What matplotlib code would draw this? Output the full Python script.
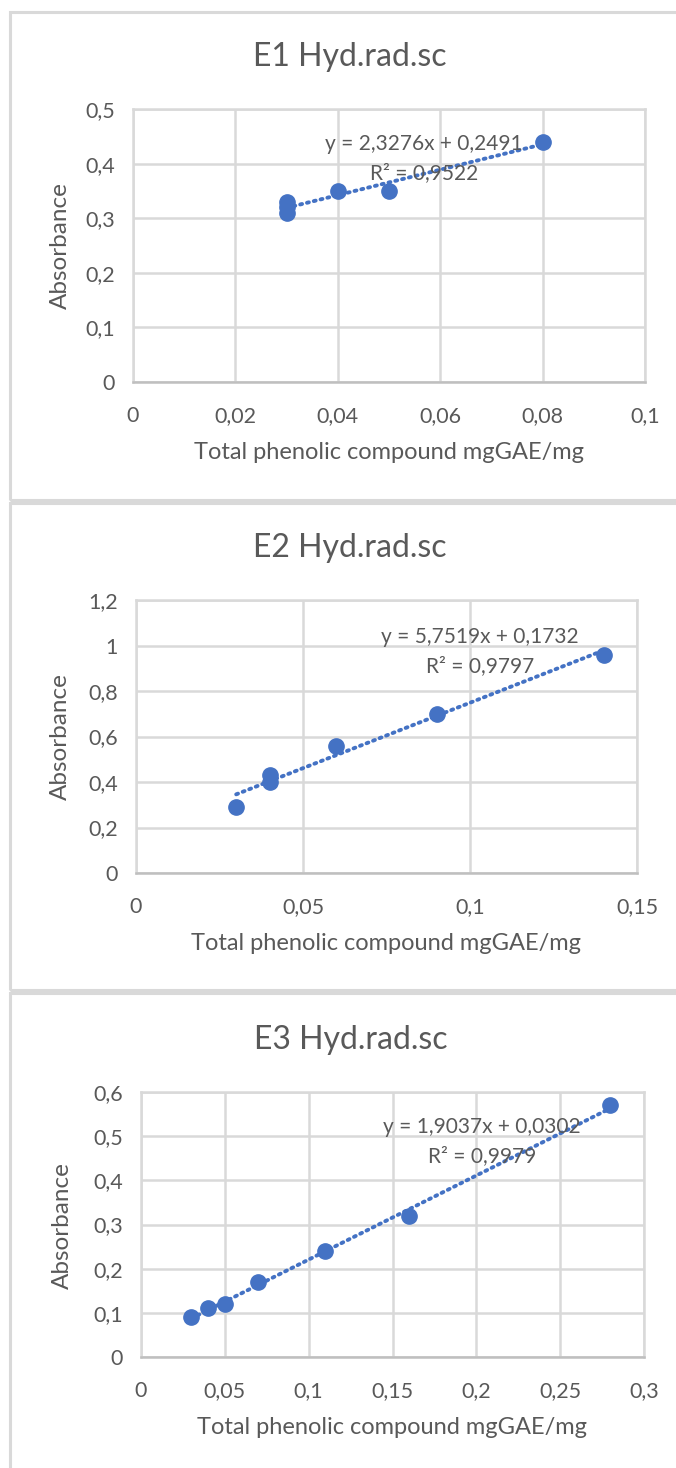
import numpy as np
import matplotlib
matplotlib.use("Agg")
import matplotlib.pyplot as plt
from matplotlib.patches import Rectangle

plt.rcParams['font.family'] = ['Lato', 'DejaVu Sans']

# data
e1_x = [0.03, 0.03, 0.03, 0.04, 0.05, 0.08]
e1_y = [0.33, 0.32, 0.31, 0.35, 0.35, 0.44]
e2_x = [0.03, 0.04, 0.04, 0.06, 0.09, 0.14]
e2_y = [0.29, 0.43, 0.40, 0.56, 0.70, 0.96]
e3_x = [0.03, 0.04, 0.05, 0.07, 0.11, 0.16, 0.28]
e3_y = [0.09, 0.11, 0.12, 0.17, 0.24, 0.32, 0.57]

titles = ["E1 Hyd.rad.sc", "E2 Hyd.rad.sc", "E3 Hyd.rad.sc"]
equations = ["y = 2,3276x + 0,2491", "y = 5,7519x + 0,1732", "y = 1,9037x + 0,0302"]
r2_labels = ["R² = 0,9522", "R² = 0,9797", "R² = 0,9979"]
x_ticks = [[0, 0.02, 0.04, 0.06, 0.08, 0.1],
           [0, 0.05, 0.1, 0.15],
           [0, 0.05, 0.1, 0.15, 0.2, 0.25, 0.3]]
y_ticks = [[0, 0.1, 0.2, 0.3, 0.4, 0.5],
           [0, 0.2, 0.4, 0.6, 0.8, 1, 1.2],
           [0, 0.1, 0.2, 0.3, 0.4, 0.5, 0.6]]
x_label = "Total phenolic compound mgGAE/mg"
y_label = "Absorbance"

W, H = 676, 1468
BLUE = '#4472C4'
TXT = '#595959'
GRID = '#d9d9d9'

fig = plt.figure(figsize=(W / 100, H / 100), dpi=100)


def px(x, y):
    return x / W, 1 - y / H


def fmt(v):
    return ('%g' % v).replace('.', ',')


# panel frames (left, top, bottom in px)
frames = [(10, 12, 500), (10, 503, 990), (10, 993, 1475)]
for l, t, b in frames:
    x0, y1 = px(l, t)
    _, y0 = px(l, b)
    fig.patches.append(Rectangle((x0, y0), 1.2, y1 - y0, transform=fig.transFigure,
                                 fill=False, edgecolor=GRID, linewidth=2.2, clip_on=False))

# axes boxes in px: left, top, right, bottom
boxes = [(133, 109, 645, 382), (136, 600, 637, 873), (141, 1092, 644, 1357)]
title_pos = [(350, 57), (350, 548), (351, 1040)]
ylab_pos = [(60, 246), (60, 737), (62, 1226)]
xlab_pos = [(389, 453), (386, 943), (392, 1428)]
eq_pos = [(424, 144, 173), (480, 637, 666), (482, 1127, 1156)]

data = [(e1_x, e1_y), (e2_x, e2_y), (e3_x, e3_y)]

for i, (xs, ys) in enumerate(data):
    l, t, r, b = boxes[i]
    x0, y0 = px(l, b)
    ax = fig.add_axes([x0, y0, (r - l) / W, (b - t) / H])
    xt, yt = x_ticks[i], y_ticks[i]
    ax.set_xlim(xt[0], xt[-1])
    ax.set_ylim(yt[0], yt[-1])
    ax.set_xticks(xt)
    ax.set_yticks(yt)
    ax.set_xticklabels([fmt(v) for v in xt])
    ax.set_yticklabels([fmt(v) for v in yt])
    ax.tick_params(length=0, labelsize=15.5, labelcolor=TXT)
    ax.tick_params(axis='x', pad=17)
    ax.tick_params(axis='y', pad=13)
    ax.grid(True, color=GRID, linewidth=1.8)
    ax.set_axisbelow(True)
    for side in ['top', 'right', 'left']:
        ax.spines[side].set_color(GRID)
        ax.spines[side].set_linewidth(1.8)
    ax.spines['bottom'].set_color('#bfbfbf')
    ax.spines['bottom'].set_linewidth(1.8)

    # linear trendline
    k, c = np.polyfit(xs, ys, 1)
    tx = np.array([min(xs), max(xs)])
    ax.plot(tx, k * tx + c, color=BLUE, linewidth=2.8,
            linestyle=(0, (0.5, 1.3)), dash_capstyle='round', zorder=3)
    ax.plot(xs, ys, 'o', color=BLUE, markersize=11, zorder=4, clip_on=False)

    fig.text(*px(*title_pos[i]), titles[i], ha='center', va='center',
             fontsize=23, color=TXT)
    fig.text(*px(*ylab_pos[i]), y_label, ha='center', va='center', rotation=90,
             fontsize=17.5, color=TXT)
    fig.text(*px(*xlab_pos[i]), x_label, ha='center', va='center',
             fontsize=17, color=TXT)
    ex, ey1, ey2 = eq_pos[i]
    fig.text(*px(ex, ey1), equations[i], ha='center', va='center',
             fontsize=15, color=TXT, zorder=5)
    fig.text(*px(ex, ey2), r2_labels[i], ha='center', va='center',
             fontsize=15, color=TXT, zorder=5)

fig.savefig('out.png', dpi=100, facecolor='white')
